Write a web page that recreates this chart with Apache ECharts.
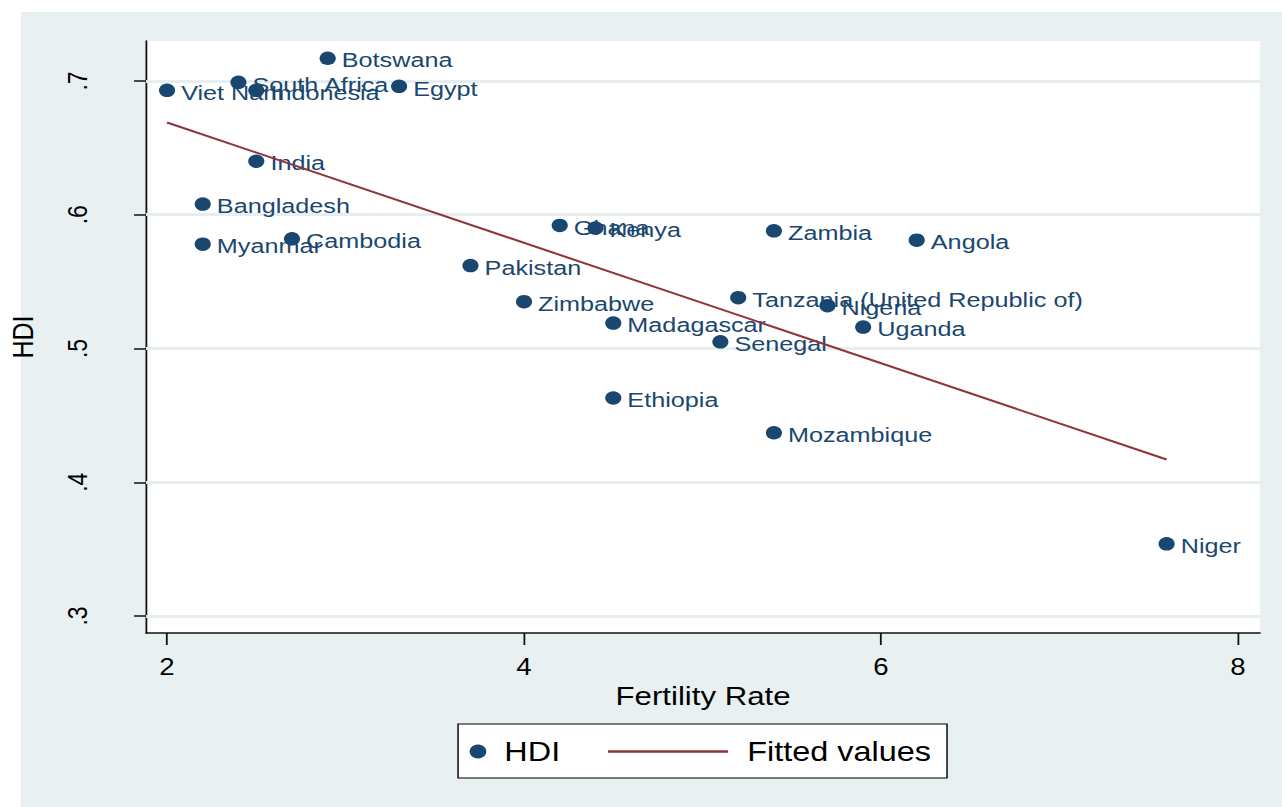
<!DOCTYPE html>
<html>
<head>
<meta charset="utf-8">
<title>HDI vs Fertility Rate</title>
<script src="https://cdn.jsdelivr.net/npm/echarts@6.0.0/dist/echarts.min.js"></script>
<style>
  html, body { margin: 0; padding: 0; background: #fff; overflow: hidden; }
  #wrap { position: relative; width: 1282px; height: 807px; }
  #panel { position: absolute; left: 21px; top: 12px; right: 0; bottom: 0; background: #e9f0f2; }
  /* the picture is stretched sideways, so the chart is drawn narrow and widened */
  #echarts_scatter { position: absolute; left: 0; top: 0; width: 1068.33px; height: 807px;
                     transform: scaleX(1.2); transform-origin: 0 0; }
</style>
</head>
<body>
<div id="wrap">
  <div id="panel"></div>
  <div id="echarts_scatter"></div>
</div>
<script>
var countries = ['Viet Nam','South Africa','Indonesia','Botswana','Egypt','India','Bangladesh','Myanmar',
                 'Cambodia','Pakistan','Ghana','Kenya','Zimbabwe','Madagascar','Ethiopia','Senegal',
                 'Tanzania (United Republic of)','Nigeria','Zambia','Angola','Uganda','Mozambique','Niger'];
var fertility = [2.0, 2.4, 2.5, 2.9, 3.3, 2.5, 2.2, 2.2,
                 2.7, 3.7, 4.2, 4.4, 4.0, 4.5, 4.5, 5.1,
                 5.2, 5.7, 5.4, 6.2, 5.9, 5.4, 7.6];
var hdi = [0.693, 0.699, 0.693, 0.717, 0.696, 0.640, 0.608, 0.578,
           0.582, 0.562, 0.592, 0.590, 0.535, 0.519, 0.463, 0.505,
           0.538, 0.532, 0.588, 0.581, 0.516, 0.437, 0.354];

// fitted values (end points of the regression line)
var fitX = [2.0, 7.6];
var fitY = [0.669, 0.417];

var xTicks = [2, 4, 6, 8];
var yTicks = [0.3, 0.4, 0.5, 0.6, 0.7];
var yTickLabels = ['.3', '.4', '.5', '.6', '.7'];

var navy = '#1a476f';
var maroon = '#90353b';

get_scatter_echarts();

function getscatterdata() {
    var scatterdata = [];
    for (var i = 0; i < countries.length; i++) {
        scatterdata.push({name: countries[i], value: [fertility[i], hdi[i]]});
    }
    return scatterdata;
}

function getfitdata() {
    var fitdata = [];
    for (var i = 0; i < fitX.length; i++) {
        fitdata.push([fitX[i], fitY[i]]);
    }
    return fitdata;
}

function get_scatter_echarts() {
    var myChart = echarts.init(document.getElementById('echarts_scatter'), null, {renderer: 'svg'});
    var gridlines = [];
    for (var i = 0; i < yTicks.length; i++) {
        gridlines.push({yAxis: yTicks[i]});
    }
    var font = 'Liberation Sans, Arial, Helvetica, sans-serif';

    option = {
        animation: false,
        textStyle: {fontFamily: font},
        grid: {
            left: 121.7, top: 41, width: 928.3, height: 592,
            outerBoundsMode: 'none', containLabel: false,
            show: true, backgroundColor: '#fff', borderWidth: 0
        },
        xAxis: {
            type: 'value',
            min: 1.8824, max: 8.1232,
            name: 'Fertility Rate',
            nameLocation: 'middle',
            nameGap: 41,
            nameTextStyle: {color: '#000', fontSize: 26, fontFamily: font},
            axisLine: {show: true, onZero: false, lineStyle: {color: '#111', width: 1.5}},
            axisTick: {show: true, length: 12, customValues: xTicks, lineStyle: {color: '#111', width: 1.5}},
            axisLabel: {customValues: xTicks, margin: 22, color: '#000', fontSize: 23, fontFamily: font},
            splitLine: {show: false}
        },
        yAxis: {
            type: 'value',
            min: 0.2873, max: 0.7299,
            name: 'HDI',
            nameLocation: 'middle',
            nameGap: 90,
            nameTextStyle: {color: '#000', fontSize: 25, fontFamily: font},
            axisLine: {show: true, onZero: false, lineStyle: {color: '#111', width: 1.5}},
            axisTick: {show: true, length: 10, customValues: yTicks, lineStyle: {color: '#111', width: 1.5}},
            axisLabel: {
                customValues: yTicks, rotate: 90, margin: 46, color: '#000', fontSize: 23, fontFamily: font,
                formatter: function (v) {
                    for (var i = 0; i < yTicks.length; i++) {
                        if (Math.abs(yTicks[i] - v) < 1e-6) return yTickLabels[i];
                    }
                    return '';
                }
            },
            splitLine: {show: false}
        },
        legend: [
            {
                data: ['HDI'],
                left: 391.3, top: 738,
                itemWidth: 14, itemHeight: 14, itemGap: 0, padding: 0,
                textStyle: {color: '#000', fontSize: 27, fontFamily: font, padding: [0, 0, 0, 10]}
            },
            {
                data: [{name: 'Fitted values', icon: 'rect'}],
                left: 506.7, top: 738,
                itemWidth: 100, itemHeight: 2.5, itemGap: 0, padding: 0,
                itemStyle: {color: maroon, borderWidth: 0},
                textStyle: {color: '#000', fontSize: 27, fontFamily: font, padding: [0, 0, 0, 11]}
            }
        ],
        graphic: [
            {
                type: 'rect',
                shape: {x: 381.7, y: 724, width: 407.5, height: 54},
                style: {fill: '#fff', stroke: '#000', lineWidth: 1.2},
                z: -1, silent: true
            }
        ],
        series: [
            {
                name: 'grid',
                type: 'line',
                data: [],
                z: 1,
                markLine: {
                    z: 1,
                    silent: true,
                    symbol: 'none',
                    label: {show: false},
                    lineStyle: {color: '#e6eef0', width: 3, type: 'solid'},
                    data: gridlines
                }
            },
            {
                name: 'HDI',
                type: 'scatter',
                symbol: 'circle',
                symbolSize: 13.5,
                itemStyle: {color: navy, opacity: 1},
                z: 3,
                label: {
                    show: true,
                    position: 'right',
                    distance: 5,
                    color: navy,
                    fontSize: 21,
                    fontFamily: font,
                    offset: [0, 2],
                    formatter: '{b}'
                },
                data: getscatterdata()
            },
            {
                name: 'Fitted values',
                type: 'line',
                showSymbol: false,
                symbol: 'none',
                lineStyle: {color: maroon, width: 2},
                itemStyle: {color: maroon},
                z: 4,
                data: getfitdata()
            }
        ]
    };

    myChart.setOption(option);
}
</script>
</body>
</html>
